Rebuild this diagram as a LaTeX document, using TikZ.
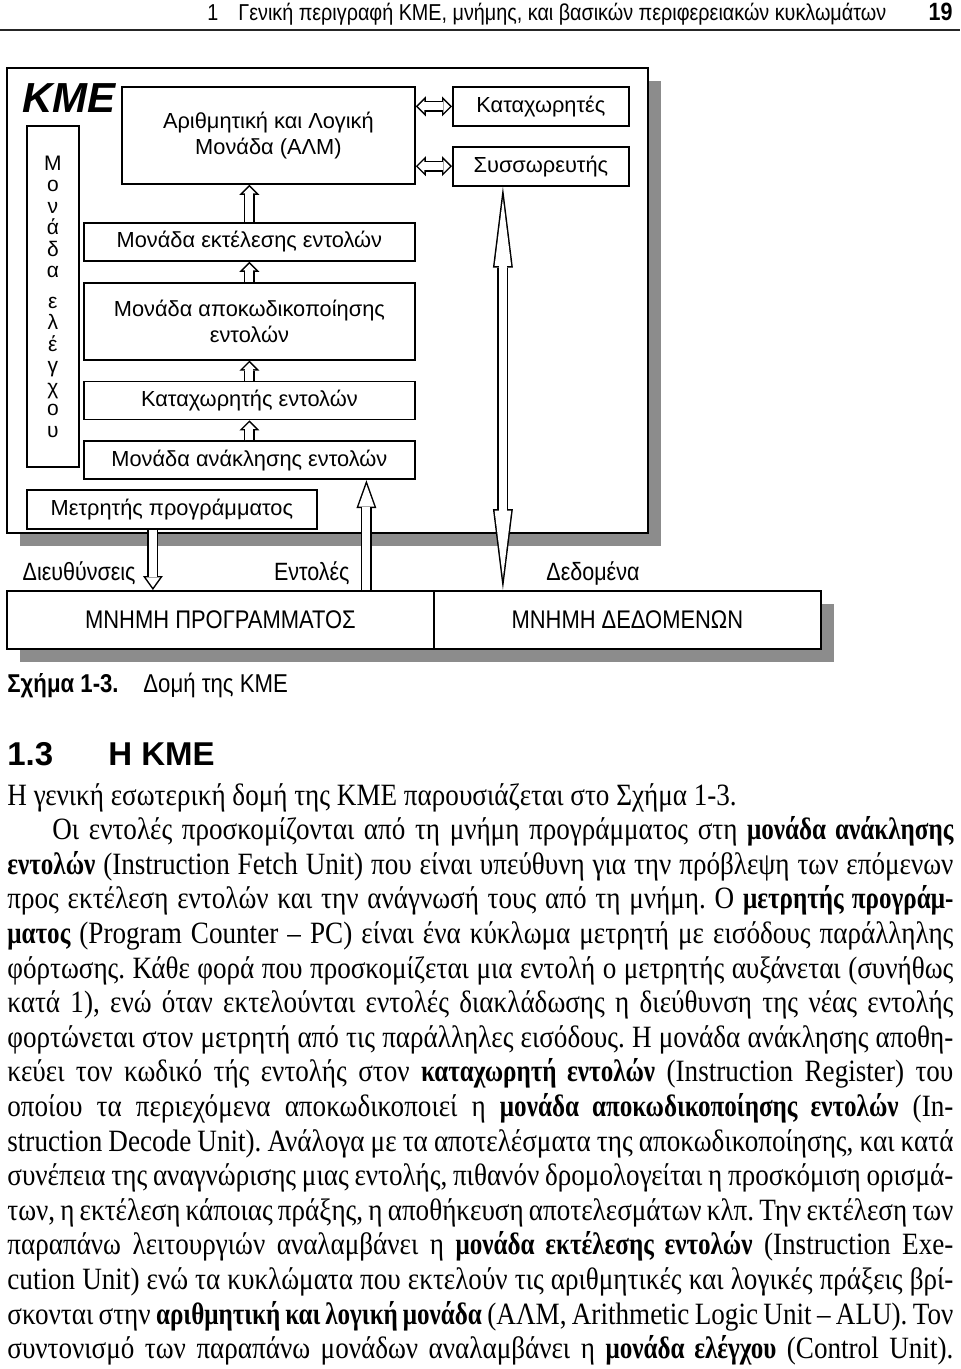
\documentclass[tikz,border=0pt]{standalone}
\usepackage{fontspec}
\setmainfont{Liberation Serif}[FakeStretch=0.875]
\newfontfamily\boldbody{Liberation Serif Bold}[FakeStretch=0.81]
\newfontfamily\diagfont{Liberation Sans}
\newfontfamily\narrowfont{Liberation Sans}[FakeStretch=0.86]
\usetikzlibrary{arrows.meta,positioning,shadows}
\definecolor{shadowgray}{RGB}{140,140,140}
\newcommand\kw[1]{{\boldbody #1}}

\tikzset{
  unit/.style={draw, line width=0.9pt, fill=white, inner sep=0pt, align=center,
    font=\diagfont\fontsize{10.9}{13}\selectfont},
  frame/.style={unit, general shadow={fill=shadowgray, shadow xshift=6.5pt, shadow yshift=-6.5pt}},
  memory/.style={frame, font=\narrowfont\fontsize{12.75}{14}\selectfont},
  lbl/.style={inner sep=0pt, font=\narrowfont\fontsize{12.5}{14}\selectfont},
  txt/.style={inner sep=0pt, font=\fontsize{15.5}{18}\selectfont},
  hollow/.style n args={4}{draw=white, line width=4pt, shorten >=#4,
    -{Triangle[length=#2, width=#3, line width=0pt]},
    preaction={draw=black, line width=5.5pt, shorten >=0pt,
      -{Triangle[length=#1, width=10pt, line width=0pt]}}},
  hollowboth/.style n args={4}{draw=white, line width=4pt, shorten >=#4, shorten <=#4,
    {Triangle[length=#2, width=#3, line width=0pt]}-{Triangle[length=#2, width=#3, line width=0pt]},
    preaction={draw=black, line width=5.5pt, shorten >=0pt, shorten <=0pt,
      {Triangle[length=#1, width=10pt, line width=0pt]}-{Triangle[length=#1, width=10pt, line width=0pt]}}}
}

\begin{document}
\frenchspacing
\begin{tikzpicture}[x=0.5pt, y=-0.5pt]
\useasboundingbox (0,0) rectangle (960,1369);

% page header
\node[lbl, anchor=base west, font=\narrowfont\fontsize{11.5}{13}\selectfont] (head) at (207,21)
  {1\hspace{10pt}Γενική περιγραφή ΚΜΕ, μνήμης, και βασικών περιφερειακών κυκλωμάτων};
\node[lbl, anchor=base east, font=\narrowfont\bfseries\fontsize{12.5}{13}\selectfont] (page) at (953,21) {19};
\draw[line width=1.3pt, black!85] (0,30) -- (960,30);

% CPU
\node[frame, anchor=north west, minimum width=320.5pt, minimum height=232.5pt] (kme) at (6,67) {};
\node[anchor=north west, inner sep=0pt, font=\diagfont\bfseries\itshape\fontsize{21}{24}\selectfont] (kmelbl) at (22,83) {KME};
\node[unit, anchor=north west, minimum width=26pt, minimum height=170.5pt,
  font=\diagfont\fontsize{10.5}{10.75}\selectfont] (ctrl) at (26,125)
  {Μ\\ο\\ν\\ά\\δ\\α\\[4.5pt]ε\\λ\\έ\\γ\\χ\\ο\\υ};
\node[unit, anchor=north west, minimum width=146.5pt, minimum height=48.5pt] (alu) at (121,86)
  {Αριθμητική και Λογική\\Μονάδα (ΑΛΜ)};
\node[unit, anchor=north west, minimum width=88pt, minimum height=19.5pt] (regs) at (452,86) {Καταχωρητές};
\node[unit, minimum width=88pt, minimum height=19.5pt, below=9.5pt of regs] (acc) {Συσσωρευτής};
\node[unit, anchor=north west, minimum width=165.5pt, minimum height=19pt] (exec) at (83,222)
  {Μονάδα εκτέλεσης εντολών};
\node[unit, minimum width=165.5pt, minimum height=38.5pt, below=10pt of exec] (decode)
  {Μονάδα αποκωδικοποίησης\\εντολών};
\node[unit, minimum width=165.5pt, minimum height=19pt, below=10pt of decode] (ireg) {Καταχωρητής εντολών};
\node[unit, minimum width=165.5pt, minimum height=19pt, below=10pt of ireg] (fetch) {Μονάδα ανάκλησης εντολών};
\node[unit, anchor=north west, minimum width=145pt, minimum height=19.5pt] (pc) at (26,489) {Μετρητής προγράμματος};

% memories
\node[memory, anchor=north west, minimum width=213.5pt, minimum height=29pt] (progmem) at (6,590)
  {ΜΝΗΜΗ ΠΡΟΓΡΑΜΜΑΤΟΣ};
\node[memory, anchor=north west, minimum width=193.5pt, minimum height=29pt] (datamem) at (433,590)
  {ΜΝΗΜΗ ΔΕΔΟΜΕΝΩΝ};

% arrows
\draw[hollow={5pt}{3.2pt}{6.4pt}{1.06pt}] (exec.north) -- (exec.north |- alu.south);
\draw[hollow={5pt}{3.2pt}{6.4pt}{1.06pt}] (decode.north) -- (exec.south);
\draw[hollow={5pt}{3.2pt}{6.4pt}{1.06pt}] (ireg.north) -- (decode.south);
\draw[hollow={5pt}{3.2pt}{6.4pt}{1.06pt}] (fetch.north) -- (ireg.south);
\draw[hollowboth={5pt}{3.2pt}{6.4pt}{1.06pt}] (alu.east |- regs) -- (regs.west);
\draw[hollowboth={5pt}{3.2pt}{6.4pt}{1.06pt}] (alu.east |- acc) -- (acc.west);
\draw[hollow={7pt}{5pt}{7.1pt}{1.3pt}] ([xshift=-9.5pt]pc.south) -- ([xshift=-9.5pt]pc.south |- progmem.north);
\draw[hollow={14pt}{11pt}{7.9pt}{2.2pt}] ([xshift=58.5pt]fetch.south |- progmem.north) -- ([xshift=58.5pt]fetch.south);
\draw[hollowboth={40.5pt}{33.6pt}{8.3pt}{6.1pt}] ([xshift=-19pt]acc.south) -- ([xshift=-19pt]acc.south |- datamem.north);

% bus labels
\node[lbl, anchor=base east] (addrlbl) at (136,580) {Διευθύνσεις};
\node[lbl, anchor=base east] (instrlbl) at (350,580) {Εντολές};
\node[lbl, anchor=base west] (datalbl) at (546,580) {Δεδομένα};

% caption and section
\node[lbl, anchor=base west, font=\narrowfont\fontsize{12.9}{14}\selectfont] (caption) at (7,692)
  {\makebox[68pt][l]{\textbf{Σχήμα 1-3.}}Δομή της ΚΜΕ};
\node[lbl, anchor=base west, font=\diagfont\bfseries\fontsize{16.5}{20}\selectfont] (section) at (7,765)
  {\makebox[50.5pt][l]{1.3}Η ΚΜΕ};

% body text
\node[txt, anchor=base west] (l1) at (7,805) {Η γενική εσωτερική δομή της ΚΜΕ παρουσιάζεται στο Σχήμα 1-3.};
\node[txt, anchor=base west] (l2) at (52,839.6)
  {\makebox[450.5pt][s]{Οι εντολές προσκομίζονται από τη μνήμη προγράμματος στη \kw{μονάδα ανάκλησης}}};
\foreach \line [count=\i from 3] in {
  {\kw{εντολών} (Instruction Fetch Unit) που είναι υπεύθυνη για την πρόβλεψη των επόμενων},
  {προς εκτέλεση εντολών και την ανάγνωσή τους από τη μνήμη. Ο \kw{μετρητής προγράμ-}},
  {\kw{ματος} (Program Counter – PC) είναι ένα κύκλωμα μετρητή με εισόδους παράλληλης},
  {φόρτωσης. Κάθε φορά που προσκομίζεται μια εντολή ο μετρητής αυξάνεται (συνήθως},
  {κατά 1), ενώ όταν εκτελούνται εντολές διακλάδωσης η διεύθυνση της νέας εντολής},
  {φορτώνεται στον μετρητή από τις παράλληλες εισόδους. Η μονάδα ανάκλησης αποθη-},
  {κεύει τον κωδικό τής εντολής στον \kw{καταχωρητή εντολών} (Instruction Register) του},
  {οποίου τα περιεχόμενα αποκωδικοποιεί η \kw{μονάδα αποκωδικοποίησης εντολών} (In-},
  {struction Decode Unit). Ανάλογα με τα αποτελέσματα της αποκωδικοποίησης, και κατά},
  {συνέπεια της αναγνώρισης μιας εντολής, πιθανόν δρομολογείται η προσκόμιση ορισμά-},
  {των, η εκτέλεση κάποιας πράξης, η αποθήκευση αποτελεσμάτων κλπ. Την εκτέλεση των},
  {παραπάνω λειτουργιών αναλαμβάνει η \kw{μονάδα εκτέλεσης εντολών} (Instruction Exe-},
  {cution Unit) ενώ τα κυκλώματα που εκτελούν τις αριθμητικές και λογικές πράξεις βρί-},
  {σκονται στην \kw{αριθμητική και λογική μονάδα} (ΑΛΜ, Arithmetic Logic Unit – ALU). Τον},
  {συντονισμό των παραπάνω μονάδων αναλαμβάνει η \kw{μονάδα ελέγχου} (Control Unit).}}
  \node[txt, anchor=base west] (l\i) at (7,{805+34.6*(\i-1)}) {\makebox[473pt][s]{\line}};
\end{tikzpicture}
\end{document}
